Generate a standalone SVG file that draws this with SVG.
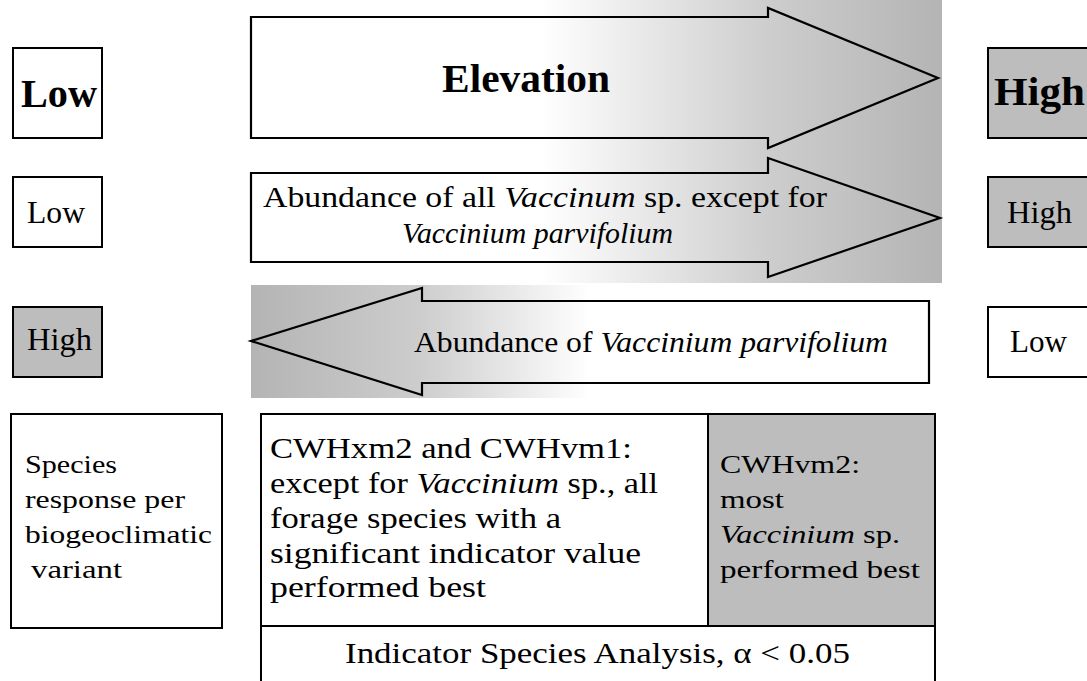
<svg xmlns="http://www.w3.org/2000/svg" width="1087" height="681" viewBox="0 0 1087 681">
<style>
.box{fill:#fff;stroke:#000;stroke-width:2}
.shade{fill:#bdbdbd;stroke:#000;stroke-width:2}
.arrow{fill:none;stroke:#000;stroke-width:2.2;stroke-linejoin:miter}
text{font-family:"Liberation Serif","Times New Roman",serif;fill:#000}
.big{font-size:39px;font-weight:bold}
.mid{font-size:31px}
.t29{font-size:29px}
.t26{font-size:26px}
.it{font-style:italic}
</style>
<defs>
<linearGradient id="gR" x1="0" y1="0" x2="1" y2="0">
<stop offset="0" stop-color="#fff"/>
<stop offset="0.42" stop-color="#fff"/>
<stop offset="0.75" stop-color="#cdcdcd"/>
<stop offset="1" stop-color="#b4b4b4"/>
</linearGradient>
<linearGradient id="gL" x1="0" y1="0" x2="1" y2="0">
<stop offset="0" stop-color="#b4b4b4"/>
<stop offset="0.25" stop-color="#cdcdcd"/>
<stop offset="0.5" stop-color="#fff"/>
<stop offset="1" stop-color="#fff"/>
</linearGradient>
</defs>
<rect width="1087" height="681" fill="#fff"/>

<g id="low-1">
<rect class="box" x="13" y="48" width="89" height="90"/>
<text class="big" x="21" y="107" textLength="76" lengthAdjust="spacingAndGlyphs">Low</text>
</g>
<g id="elevation">
<rect x="251" y="0" width="691" height="153" fill="url(#gR)"/>
<path class="arrow" d="M251,17 L768,17 L768,8 L938,78 L768,148 L768,138 L251,138 Z"/>
<text class="big" x="442" y="92" textLength="168" lengthAdjust="spacingAndGlyphs">Elevation</text>
</g>
<g id="high-1">
<rect class="shade" x="988" y="48" width="110" height="90"/>
<text class="big" x="994" y="105" textLength="91" lengthAdjust="spacingAndGlyphs">High</text>
</g>

<g id="low-2">
<rect class="box" x="13" y="177" width="89" height="70"/>
<text class="mid" x="27" y="223" textLength="58" lengthAdjust="spacingAndGlyphs">Low</text>
</g>
<g id="abundance-all">
<rect x="251" y="152" width="691" height="131" fill="url(#gR)"/>
<path class="arrow" d="M251,173 L768,173 L768,158 L940,218 L768,277 L768,262 L251,262 Z"/>
<text class="t29" x="263" y="207" textLength="564" lengthAdjust="spacingAndGlyphs">Abundance of all <tspan class="it">Vaccinum</tspan> sp. except for</text>
<text class="t29 it" x="402" y="243" textLength="271" lengthAdjust="spacingAndGlyphs">Vaccinium parvifolium</text>
</g>
<g id="high-2">
<rect class="shade" x="988" y="177" width="110" height="70"/>
<text class="mid" x="1007" y="223" textLength="65" lengthAdjust="spacingAndGlyphs">High</text>
</g>

<g id="high-3">
<rect class="shade" x="13" y="307" width="89" height="70"/>
<text class="mid" x="27" y="350" textLength="65" lengthAdjust="spacingAndGlyphs">High</text>
</g>
<g id="abundance-parvifolium">
<rect x="251" y="285" width="678" height="113" fill="url(#gL)"/>
<path class="arrow" d="M929,301 L422,301 L422,288 L251,341 L422,395 L422,383 L929,383 Z"/>
<text class="t29" x="414" y="352" textLength="474" lengthAdjust="spacingAndGlyphs">Abundance of <tspan class="it">Vaccinium parvifolium</tspan></text>
</g>
<g id="low-3">
<rect class="box" x="988" y="307" width="110" height="70"/>
<text class="mid" x="1010" y="352" textLength="57" lengthAdjust="spacingAndGlyphs">Low</text>
</g>

<g id="species-response">
<rect class="box" x="11" y="414" width="211" height="214"/>
<text class="t26" x="25" y="473" textLength="92" lengthAdjust="spacingAndGlyphs">Species</text>
<text class="t26" x="25" y="508" textLength="160" lengthAdjust="spacingAndGlyphs">response per</text>
<text class="t26" x="25" y="543" textLength="187" lengthAdjust="spacingAndGlyphs">biogeoclimatic</text>
<text class="t26" x="31" y="578" textLength="91" lengthAdjust="spacingAndGlyphs">variant</text>
</g>
<g id="indicator-analysis">
<rect class="box" x="261" y="414" width="674" height="290"/>
<rect class="shade" x="708" y="414" width="227" height="212"/>
<line x1="261" y1="626" x2="935" y2="626" stroke="#000" stroke-width="2"/>
<text class="t29" x="270" y="458" textLength="362" lengthAdjust="spacingAndGlyphs">CWHxm2 and CWHvm1:</text>
<text class="t29" x="270" y="493" textLength="388" lengthAdjust="spacingAndGlyphs">except for <tspan class="it">Vaccinium</tspan> sp., all</text>
<text class="t29" x="270" y="528" textLength="291" lengthAdjust="spacingAndGlyphs">forage species with a</text>
<text class="t29" x="270" y="563" textLength="371" lengthAdjust="spacingAndGlyphs">significant indicator value</text>
<text class="t29" x="270" y="597" textLength="216" lengthAdjust="spacingAndGlyphs">performed best</text>
<text class="t26" x="720" y="473" textLength="140" lengthAdjust="spacingAndGlyphs">CWHvm2:</text>
<text class="t26" x="720" y="508" textLength="64" lengthAdjust="spacingAndGlyphs">most</text>
<text class="t26" x="720" y="543" textLength="180" lengthAdjust="spacingAndGlyphs"><tspan class="it">Vaccinium</tspan> sp.</text>
<text class="t26" x="720" y="578" textLength="200" lengthAdjust="spacingAndGlyphs">performed best</text>
<text class="t29" x="345" y="663" textLength="505" lengthAdjust="spacingAndGlyphs">Indicator Species Analysis, α &lt; 0.05</text>
</g>
<g id="connectors"></g>
</svg>
